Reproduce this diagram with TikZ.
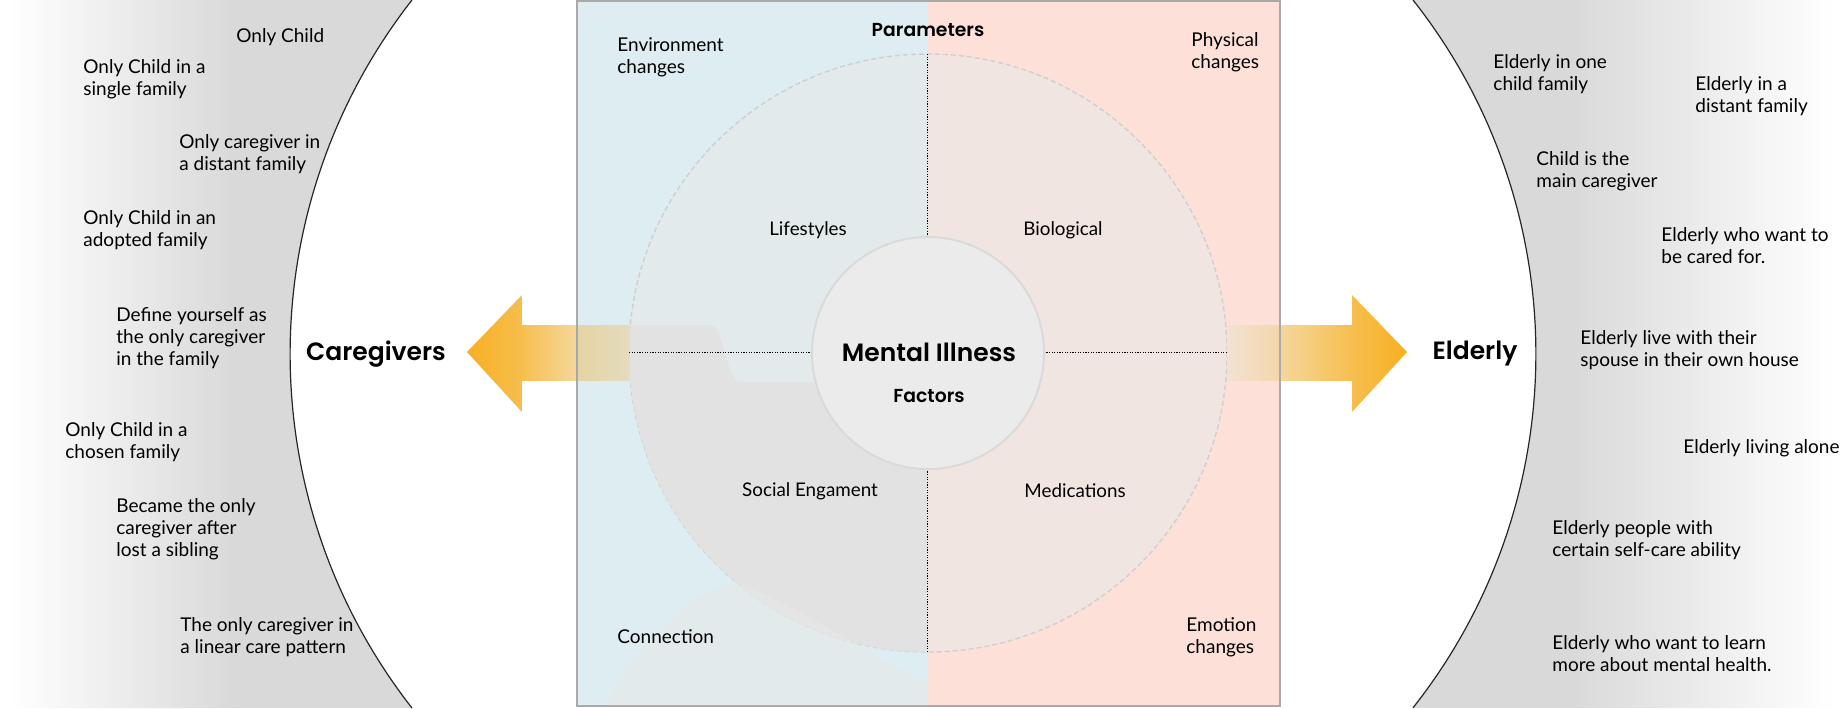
\documentclass[tikz,border=0pt]{standalone}
\usepackage{fontspec}
\setmainfont{Lato}
\newfontfamily\hfont{Poppins}[BoldFont={Poppins SemiBold}]
\definecolor{sgray}{HTML}{D9D9D9}
\definecolor{bluebg}{HTML}{DDEDF1}
\definecolor{pinkbg}{HTML}{FDE0D8}
\definecolor{boxline}{HTML}{A9A9A9}
\definecolor{circfill}{HTML}{E9E9E9}
\definecolor{circline}{HTML}{CFCFCF}
\definecolor{quad}{HTML}{E2E2E2}
\definecolor{innerfill}{HTML}{EBEBEB}
\definecolor{innerline}{HTML}{DADADA}
\definecolor{aor}{HTML}{F8AF22}
\definecolor{aormid}{HTML}{F6BE4E}
\definecolor{apale}{HTML}{F5D79C}
\definecolor{abeigeA}{HTML}{E5D4A2}
\definecolor{abeigeB}{HTML}{E4DCC0}
\definecolor{rpaleA}{HTML}{F2E2D2}
\definecolor{rpaleB}{HTML}{F4D6AA}
\begin{document}
\begin{tikzpicture}[x=0.5pt,y=-0.5pt,
  lbl/.style={font=\fontsize{9.5}{11}\selectfont, align=left, inner sep=0pt, anchor=west},
  clbl/.style={font=\fontsize{9.4}{11}\selectfont, inner sep=0pt},
  bighead/.style={font=\hfont\bfseries\fontsize{12.5}{14}\selectfont, inner sep=0pt},
  smallhead/.style={font=\hfont\bfseries\fontsize{9.4}{11}\selectfont, inner sep=0pt},
  dotl/.style={black, line width=0.5pt, dash pattern=on 0.6pt off 0.7pt},
  arcline/.style={line width=0.6pt, black!85}
]
\fill[white] (0,0) rectangle (1846,708);
\useasboundingbox (0,0) rectangle (1846,708);

% left gray region
\begin{scope}
  \clip (0,0) -- (412,0) arc[start angle=218, end angle=142, radius=575] -- (0,708) -- cycle;
  \shade[left color=white, right color=sgray] (10,0) rectangle (235,708);
  \fill[sgray] (234,0) rectangle (413,708);
\end{scope}
\draw[arcline] (412,0) arc[start angle=218, end angle=142, radius=575];
% right gray region
\begin{scope}
  \clip (1846,0) -- (1413,0) arc[start angle=-38.3, end angle=38.3, radius=571] -- (1846,708) -- cycle;
  \fill[sgray] (1412,0) rectangle (1571,708);
  \shade[left color=sgray, right color=white] (1570,0) rectangle (1836,708);
  \fill[white] (1835,0) rectangle (1846,708);
\end{scope}
\draw[arcline] (1413,0) arc[start angle=-38.3, end angle=38.3, radius=571];

% central box fills
\fill[bluebg] (577,1) rectangle (927,706);
\fill[pinkbg] (927,1) rectangle (1280,706);

% big circle
\coordinate (C) at (928,353);
\fill[circfill, fill opacity=0.56] (C) circle[radius=299];
\draw[circline, line width=0.7pt, dash pattern=on 2.5pt off 1.5pt] (C) circle[radius=299];
\begin{scope}
  \clip (C) circle[radius=299];
  \fill[quad] (927,382) -- (740,382) .. controls (726,382) and (724,325) .. (710,325)
     -- (600,325) -- (600,710) -- (927,710) -- cycle;
\end{scope}
\begin{scope}
  \clip (577,1) rectangle (927,706);
  \fill[circfill, fill opacity=0.55] (605,706) .. controls (640,640) and (690,590) .. (735,583)
     .. controls (790,600) and (860,650) .. (928,684) -- (928,706) -- cycle;
\end{scope}

% left arrow
\shade[left color=aormid, right color=apale] (521,325) rectangle (577,380);
\shade[left color=abeigeA, right color=abeigeB] (577,325) rectangle (630,380);
\shade[left color=aor, right color=aormid] (467,352) -- (522,295) -- (522,412) -- cycle;
% right arrow
\shade[left color=rpaleA, right color=rpaleB] (1227,325) rectangle (1280,380);
\shade[left color=apale, right color=aormid] (1280,325) rectangle (1353,380);
\shade[left color=aormid, right color=aor] (1352,295) -- (1407,352) -- (1352,412) -- cycle;

% box border
\draw[boxline, line width=1pt] (577,1) rectangle (1280,706);

% inner circle
\node[circle, minimum size=116pt, inner sep=0pt, fill=innerfill, draw=innerline, line width=1pt] (inner) at (C) {};

% dotted lines
\coordinate (bt) at (927,54);
\coordinate (bb) at (927,652);
\coordinate (bl) at (629,352);
\coordinate (br) at (1227,352);
\draw[dotl] (bt) -- (bt |- inner.north);
\draw[dotl] (bb) -- (bb |- inner.south);
\draw[dotl] (bl) -- (inner.west |- bl);
\draw[dotl] (br) -- (inner.east |- br);

% central texts
\node[smallhead] (par) at (928,30) {Parameters};
\node[lbl] (env) at (617,57) {Environment\\changes};
\node[lbl] (phys) at (1191,52) {Physical\\changes};
\node[clbl] (life) at (808,230) {Lifestyles};
\node[clbl] (bio) at (1063,230) {Biological};
\node[bighead] (mi) at (929,352) {Mental Illness};
\node[smallhead] (fac) at (929,396) {Factors};
\node[clbl] (soc) at (810,491) {Social Engament};
\node[clbl] (med) at (1075,491) {Medications};
\node[lbl] (con) at (617,637) {Connection};
\node[lbl] (emo) at (1186,637) {Emotion\\changes};

% left texts
\node[lbl] (l1) at (236,37) {Only Child};
\node[lbl] (l2) at (83,79) {Only Child in a\\single family};
\node[lbl] (l3) at (179,154) {Only caregiver in\\a distant family};
\node[lbl] (l4) at (83,230) {Only Child in an\\adopted family};
\node[lbl] (l5) at (116,338) {Define yourself as\\the only caregiver\\in the family};
\node[lbl] (l6) at (65,442) {Only Child in a\\chosen family};
\node[lbl] (l7) at (116,529) {Became the only\\caregiver after\\lost a sibling};
\node[lbl] (l8) at (180,637) {The only caregiver in\\a linear care pattern};
\node[bighead] (care) at (376,354) {Caregivers};

% right texts
\node[lbl] (r1) at (1493,74) {Elderly in one\\child family};
\node[lbl] (r2) at (1695,96) {Elderly in a\\distant family};
\node[lbl] (r3) at (1536,171) {Child is the\\main caregiver};
\node[lbl] (r4) at (1661,246) {Elderly who want to\\be cared for.};
\node[lbl] (r5) at (1580,350) {Elderly live with their\\spouse in their own house};
\node[lbl] (r6) at (1683,448) {Elderly living alone};
\node[lbl] (r7) at (1552,540) {Elderly people with\\certain self-care ability};
\node[lbl] (r8) at (1552,654) {Elderly who want to learn\\more about mental health.};
\node[bighead] (eld) at (1475,354) {Elderly};
\end{tikzpicture}
\end{document}
